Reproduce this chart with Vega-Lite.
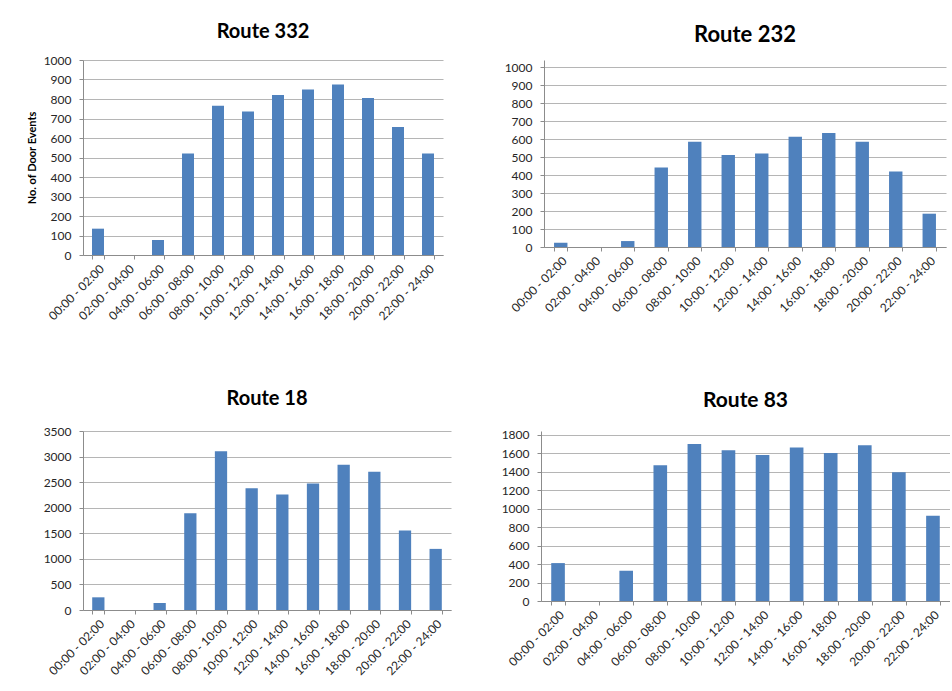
{
  "$schema": "https://vega.github.io/schema/vega-lite/v6.json",
  "background": "white",
  "padding": {"left": 26, "top": 22, "right": 0, "bottom": 0},
  "data": {"values": [
    {"route": "332", "slot": "00:00 - 02:00", "events": 135},
    {"route": "332", "slot": "02:00 - 04:00", "events": 0},
    {"route": "332", "slot": "04:00 - 06:00", "events": 77},
    {"route": "332", "slot": "06:00 - 08:00", "events": 520},
    {"route": "332", "slot": "08:00 - 10:00", "events": 765},
    {"route": "332", "slot": "10:00 - 12:00", "events": 736},
    {"route": "332", "slot": "12:00 - 14:00", "events": 820},
    {"route": "332", "slot": "14:00 - 16:00", "events": 849},
    {"route": "332", "slot": "16:00 - 18:00", "events": 875},
    {"route": "332", "slot": "18:00 - 20:00", "events": 805},
    {"route": "332", "slot": "20:00 - 22:00", "events": 656},
    {"route": "332", "slot": "22:00 - 24:00", "events": 520},
    {"route": "232", "slot": "00:00 - 02:00", "events": 24},
    {"route": "232", "slot": "02:00 - 04:00", "events": 0},
    {"route": "232", "slot": "04:00 - 06:00", "events": 33},
    {"route": "232", "slot": "06:00 - 08:00", "events": 441},
    {"route": "232", "slot": "08:00 - 10:00", "events": 585},
    {"route": "232", "slot": "10:00 - 12:00", "events": 511},
    {"route": "232", "slot": "12:00 - 14:00", "events": 519},
    {"route": "232", "slot": "14:00 - 16:00", "events": 613},
    {"route": "232", "slot": "16:00 - 18:00", "events": 633},
    {"route": "232", "slot": "18:00 - 20:00", "events": 585},
    {"route": "232", "slot": "20:00 - 22:00", "events": 419},
    {"route": "232", "slot": "22:00 - 24:00", "events": 185},
    {"route": "18", "slot": "00:00 - 02:00", "events": 248},
    {"route": "18", "slot": "02:00 - 04:00", "events": 0},
    {"route": "18", "slot": "04:00 - 06:00", "events": 137},
    {"route": "18", "slot": "06:00 - 08:00", "events": 1894},
    {"route": "18", "slot": "08:00 - 10:00", "events": 3102},
    {"route": "18", "slot": "10:00 - 12:00", "events": 2383},
    {"route": "18", "slot": "12:00 - 14:00", "events": 2259},
    {"route": "18", "slot": "14:00 - 16:00", "events": 2475},
    {"route": "18", "slot": "16:00 - 18:00", "events": 2840},
    {"route": "18", "slot": "18:00 - 20:00", "events": 2703},
    {"route": "18", "slot": "20:00 - 22:00", "events": 1554},
    {"route": "18", "slot": "22:00 - 24:00", "events": 1195},
    {"route": "83", "slot": "00:00 - 02:00", "events": 411},
    {"route": "83", "slot": "02:00 - 04:00", "events": 0},
    {"route": "83", "slot": "04:00 - 06:00", "events": 328},
    {"route": "83", "slot": "06:00 - 08:00", "events": 1472},
    {"route": "83", "slot": "08:00 - 10:00", "events": 1703},
    {"route": "83", "slot": "10:00 - 12:00", "events": 1634},
    {"route": "83", "slot": "12:00 - 14:00", "events": 1584},
    {"route": "83", "slot": "14:00 - 16:00", "events": 1663},
    {"route": "83", "slot": "16:00 - 18:00", "events": 1605},
    {"route": "83", "slot": "18:00 - 20:00", "events": 1688},
    {"route": "83", "slot": "20:00 - 22:00", "events": 1396},
    {"route": "83", "slot": "22:00 - 24:00", "events": 923}
  ]},
  "config": {
    "view": {"stroke": null},
    "font": "Lato",
    "title": {"font": "Lato", "fontSize": 20, "fontWeight": "bold", "color": "#000000", "offset": 12},
    "axis": {
      "labelFont": "Lato", "labelFontSize": 12, "labelColor": "#262626",
      "domainColor": "#8c8c8c", "tickColor": "#8c8c8c", "tickSize": 4,
      "gridColor": "#b5b5b5", "titleFont": "Lato", "titleFontSize": 11, "titleFontWeight": "bold", "titleColor": "#000000"
    },
    "axisX": {"grid": false, "labelAngle": -45, "tickBand": "extent", "title": null, "labelPadding": 4},
    "axisY": {"grid": true, "labelPadding": 8, "format": "d"},
    "bar": {"color": "#4F81BD"}
  },
  "spacing": 67,
  "vconcat": [
    {
      "spacing": 61,
      "hconcat": [
        {
          "title": {"text": "Route 332"},
          "width": 360, "height": 195,
          "transform": [{"filter": "datum.route === '332'"}],
          "mark": "bar",
          "encoding": {
            "x": {"field": "slot", "type": "nominal", "sort": null, "scale": {"paddingInner": 0.6, "paddingOuter": 0.3}},
            "y": {"field": "events", "type": "quantitative", "scale": {"domain": [0, 1000]},
                  "axis": {"values": [0,100,200,300,400,500,600,700,800,900,1000], "title": "No. of Door Events", "titlePadding": 6}}
          }
        },
        {
          "title": {"text": "Route 232", "fontSize": 22, "offset": 10, "dy": -3},
          "width": 402, "height": 187,
          "transform": [{"filter": "datum.route === '232'"}],
          "mark": "bar",
          "encoding": {
            "x": {"field": "slot", "type": "nominal", "sort": null, "scale": {"paddingInner": 0.6, "paddingOuter": 0.3}},
            "y": {"field": "events", "type": "quantitative", "scale": {"domain": [0, 1038.9], "nice": false},
                  "axis": {"values": [0,100,200,300,400,500,600,700,800,900,1000], "title": null}}
          }
        }
      ]
    },
    {
      "spacing": 50,
      "hconcat": [
        {
          "title": {"text": "Route 18", "offset": 16},
          "width": 368, "height": 179,
          "transform": [{"filter": "datum.route === '18'"}],
          "mark": "bar",
          "encoding": {
            "x": {"field": "slot", "type": "nominal", "sort": null, "scale": {"paddingInner": 0.6, "paddingOuter": 0.3}},
            "y": {"field": "events", "type": "quantitative", "scale": {"domain": [0, 3500]},
                  "axis": {"values": [0,500,1000,1500,2000,2500,3000,3500], "title": null}}
          }
        },
        {
          "title": {"text": "Route 83", "fontSize": 21, "offset": 14, "dy": -4},
          "width": 409, "height": 170,
          "transform": [{"filter": "datum.route === '83'"}],
          "mark": "bar",
          "encoding": {
            "x": {"field": "slot", "type": "nominal", "sort": null, "scale": {"paddingInner": 0.6, "paddingOuter": 0.3}},
            "y": {"field": "events", "type": "quantitative", "scale": {"domain": [0, 1843], "nice": false},
                  "axis": {"values": [0,200,400,600,800,1000,1200,1400,1600,1800], "title": null}}
          }
        }
      ]
    }
  ]
}
